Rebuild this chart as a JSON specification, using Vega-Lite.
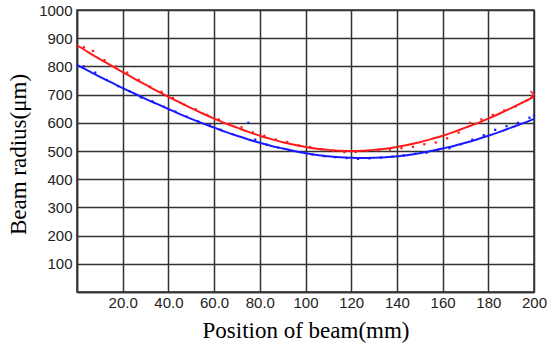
{
  "$schema": "https://vega.github.io/schema/vega-lite/v6.json",
  "width": 457,
  "height": 282,
  "autosize": {"type": "none"},
  "padding": {"left": 77, "top": 10, "right": 16, "bottom": 56},
  "background": "white",
  "config": {
    "view": {"stroke": "#333333", "strokeWidth": 1.5},
    "axis": {
      "grid": true, "gridColor": "#333333", "gridWidth": 1.5, "gridOpacity": 1,
      "ticks": false, "domain": true, "domainColor": "#333333", "domainWidth": 1.5,
      "labelFont": "Liberation Sans", "labelFontSize": 15, "labelColor": "#222222",
      "titleFont": "Liberation Serif", "titleFontSize": 23, "titleFontWeight": "normal", "titleColor": "#000000"
    }
  },
  "datasets": {
    "fit": [
      {"series": "red", "x": 0, "y": 875}, {"series": "red", "x": 5, "y": 850}, {"series": "red", "x": 10, "y": 826}, {"series": "red", "x": 15, "y": 803},
      {"series": "red", "x": 20, "y": 780}, {"series": "red", "x": 25, "y": 757}, {"series": "red", "x": 30, "y": 735}, {"series": "red", "x": 35, "y": 713},
      {"series": "red", "x": 40, "y": 692}, {"series": "red", "x": 45, "y": 672}, {"series": "red", "x": 50, "y": 652}, {"series": "red", "x": 55, "y": 633},
      {"series": "red", "x": 60, "y": 615}, {"series": "red", "x": 65, "y": 598}, {"series": "red", "x": 70, "y": 583}, {"series": "red", "x": 75, "y": 568},
      {"series": "red", "x": 80, "y": 554}, {"series": "red", "x": 85, "y": 542}, {"series": "red", "x": 90, "y": 531}, {"series": "red", "x": 95, "y": 522},
      {"series": "red", "x": 100, "y": 514}, {"series": "red", "x": 105, "y": 508}, {"series": "red", "x": 110, "y": 504}, {"series": "red", "x": 115, "y": 501},
      {"series": "red", "x": 120, "y": 500}, {"series": "red", "x": 125, "y": 501}, {"series": "red", "x": 130, "y": 504}, {"series": "red", "x": 135, "y": 508},
      {"series": "red", "x": 140, "y": 514}, {"series": "red", "x": 145, "y": 522}, {"series": "red", "x": 150, "y": 531}, {"series": "red", "x": 155, "y": 542},
      {"series": "red", "x": 160, "y": 554}, {"series": "red", "x": 165, "y": 568}, {"series": "red", "x": 170, "y": 583}, {"series": "red", "x": 175, "y": 598},
      {"series": "red", "x": 180, "y": 615}, {"series": "red", "x": 185, "y": 633}, {"series": "red", "x": 190, "y": 652}, {"series": "red", "x": 195, "y": 672},
      {"series": "red", "x": 200, "y": 692},
      {"series": "blue", "x": 0, "y": 805}, {"series": "blue", "x": 5, "y": 784}, {"series": "blue", "x": 10, "y": 763}, {"series": "blue", "x": 15, "y": 743},
      {"series": "blue", "x": 20, "y": 723}, {"series": "blue", "x": 25, "y": 704}, {"series": "blue", "x": 30, "y": 685}, {"series": "blue", "x": 35, "y": 667},
      {"series": "blue", "x": 40, "y": 649}, {"series": "blue", "x": 45, "y": 631}, {"series": "blue", "x": 50, "y": 614}, {"series": "blue", "x": 55, "y": 598},
      {"series": "blue", "x": 60, "y": 583}, {"series": "blue", "x": 65, "y": 568}, {"series": "blue", "x": 70, "y": 554}, {"series": "blue", "x": 75, "y": 541},
      {"series": "blue", "x": 80, "y": 529}, {"series": "blue", "x": 85, "y": 518}, {"series": "blue", "x": 90, "y": 509}, {"series": "blue", "x": 95, "y": 500},
      {"series": "blue", "x": 100, "y": 492}, {"series": "blue", "x": 105, "y": 486}, {"series": "blue", "x": 110, "y": 481}, {"series": "blue", "x": 115, "y": 478},
      {"series": "blue", "x": 120, "y": 476}, {"series": "blue", "x": 125, "y": 475}, {"series": "blue", "x": 130, "y": 476}, {"series": "blue", "x": 135, "y": 478},
      {"series": "blue", "x": 140, "y": 481}, {"series": "blue", "x": 145, "y": 486}, {"series": "blue", "x": 150, "y": 492}, {"series": "blue", "x": 155, "y": 500},
      {"series": "blue", "x": 160, "y": 509}, {"series": "blue", "x": 165, "y": 518}, {"series": "blue", "x": 170, "y": 529}, {"series": "blue", "x": 175, "y": 541},
      {"series": "blue", "x": 180, "y": 554}, {"series": "blue", "x": 185, "y": 568}, {"series": "blue", "x": 190, "y": 583}, {"series": "blue", "x": 195, "y": 598},
      {"series": "blue", "x": 200, "y": 614}
    ],
    "meas": [
      {"series": "red", "x": 3, "y": 868}, {"series": "red", "x": 7, "y": 855}, {"series": "red", "x": 12, "y": 822}, {"series": "red", "x": 17, "y": 800},
      {"series": "red", "x": 22, "y": 778}, {"series": "red", "x": 27, "y": 752}, {"series": "red", "x": 32, "y": 728}, {"series": "red", "x": 37, "y": 710},
      {"series": "red", "x": 42, "y": 688}, {"series": "red", "x": 47, "y": 664}, {"series": "red", "x": 52, "y": 648}, {"series": "red", "x": 57, "y": 628},
      {"series": "red", "x": 62, "y": 612}, {"series": "red", "x": 67, "y": 597}, {"series": "red", "x": 72, "y": 584}, {"series": "red", "x": 77, "y": 566},
      {"series": "red", "x": 82, "y": 554}, {"series": "red", "x": 87, "y": 541}, {"series": "red", "x": 92, "y": 532}, {"series": "red", "x": 97, "y": 520},
      {"series": "red", "x": 102, "y": 514}, {"series": "red", "x": 107, "y": 506}, {"series": "red", "x": 112, "y": 500}, {"series": "red", "x": 117, "y": 496},
      {"series": "red", "x": 122, "y": 497}, {"series": "red", "x": 127, "y": 500}, {"series": "red", "x": 132, "y": 502}, {"series": "red", "x": 137, "y": 505},
      {"series": "red", "x": 142, "y": 510}, {"series": "red", "x": 147, "y": 515}, {"series": "red", "x": 152, "y": 524}, {"series": "red", "x": 157, "y": 530},
      {"series": "red", "x": 162, "y": 545}, {"series": "red", "x": 167, "y": 565}, {"series": "red", "x": 172, "y": 600}, {"series": "red", "x": 177, "y": 612},
      {"series": "red", "x": 182, "y": 628}, {"series": "red", "x": 187, "y": 644}, {"series": "red", "x": 192, "y": 658}, {"series": "red", "x": 197, "y": 680},
      {"series": "blue", "x": 3, "y": 800}, {"series": "blue", "x": 8, "y": 778}, {"series": "blue", "x": 13, "y": 752}, {"series": "blue", "x": 18, "y": 730},
      {"series": "blue", "x": 23, "y": 712}, {"series": "blue", "x": 28, "y": 690}, {"series": "blue", "x": 33, "y": 676}, {"series": "blue", "x": 38, "y": 657},
      {"series": "blue", "x": 43, "y": 640}, {"series": "blue", "x": 48, "y": 622}, {"series": "blue", "x": 53, "y": 605}, {"series": "blue", "x": 58, "y": 592},
      {"series": "blue", "x": 63, "y": 575}, {"series": "blue", "x": 68, "y": 560}, {"series": "blue", "x": 75, "y": 600}, {"series": "blue", "x": 78, "y": 540},
      {"series": "blue", "x": 83, "y": 522}, {"series": "blue", "x": 88, "y": 512}, {"series": "blue", "x": 93, "y": 502}, {"series": "blue", "x": 98, "y": 496},
      {"series": "blue", "x": 103, "y": 488}, {"series": "blue", "x": 108, "y": 482}, {"series": "blue", "x": 113, "y": 478}, {"series": "blue", "x": 118, "y": 475},
      {"series": "blue", "x": 123, "y": 472}, {"series": "blue", "x": 128, "y": 474}, {"series": "blue", "x": 133, "y": 476}, {"series": "blue", "x": 138, "y": 480},
      {"series": "blue", "x": 143, "y": 484}, {"series": "blue", "x": 148, "y": 490}, {"series": "blue", "x": 153, "y": 494}, {"series": "blue", "x": 158, "y": 503},
      {"series": "blue", "x": 163, "y": 510}, {"series": "blue", "x": 168, "y": 524}, {"series": "blue", "x": 173, "y": 540}, {"series": "blue", "x": 178, "y": 556},
      {"series": "blue", "x": 183, "y": 575}, {"series": "blue", "x": 188, "y": 588}, {"series": "blue", "x": 193, "y": 600}, {"series": "blue", "x": 198, "y": 618},
      {"series": "blue", "x": 200, "y": 625}
    ],
    "arrow": [{"series": "red", "x": 200, "y": 700}]
  },
  "encoding": {
    "x": {
      "field": "x", "type": "quantitative",
      "scale": {"domain": [0, 200], "nice": false, "zero": false},
      "axis": {
        "title": "Position of beam(mm)",
        "values": [0, 20, 40, 60, 80, 100, 120, 140, 160, 180, 200],
        "labelExpr": "datum.value == 0 ? '' : (datum.value < 100 ? format(datum.value, '.1f') : format(datum.value, 'd'))",
        "labelPadding": 3,
        "labelFlush": false,
        "titleY": 45, "titleBaseline": "alphabetic"
      }
    },
    "y": {
      "field": "y", "type": "quantitative",
      "scale": {"domain": [0, 1000], "nice": false},
      "axis": {
        "title": "Beam radius(μm)",
        "values": [0, 100, 200, 300, 400, 500, 600, 700, 800, 900, 1000],
        "labelExpr": "datum.value == 0 ? '' : format(datum.value, 'd')",
        "labelPadding": 5,
        "labelFlush": false,
        "titleX": -59, "titleY": 144, "titleBaseline": "middle", "titleAlign": "center"
      }
    },
    "color": {
      "field": "series", "type": "nominal",
      "scale": {"domain": ["red", "blue"], "range": ["#ff1a1a", "#1a1aff"]},
      "legend": null
    }
  },
  "layer": [
    {
      "data": {"name": "fit"},
      "mark": {"type": "line", "strokeWidth": 2, "interpolate": "monotone"},
      "encoding": {"detail": {"field": "series"}}
    },
    {
      "data": {"name": "meas"},
      "mark": {"type": "point", "shape": "square", "filled": true, "size": 5, "opacity": 1}
    },
    {
      "data": {"name": "arrow"},
      "mark": {"type": "point", "shape": "M-1,-1L0,0L-1,1", "filled": false, "size": 50, "strokeWidth": 1.5, "opacity": 1}
    }
  ]
}
